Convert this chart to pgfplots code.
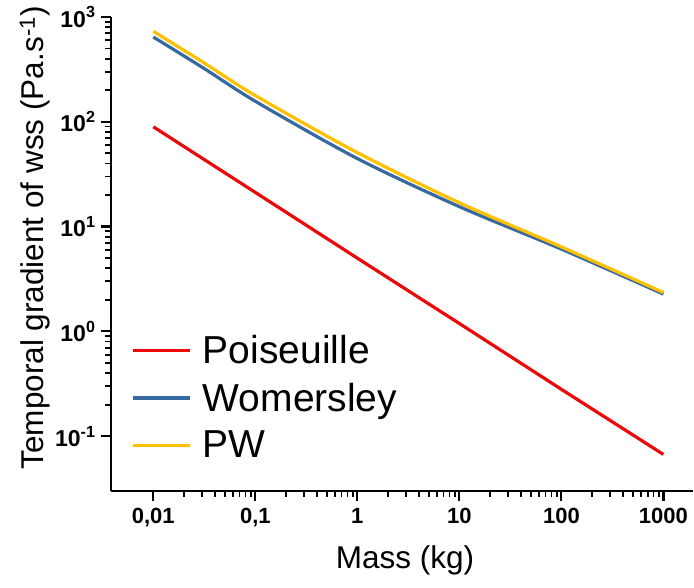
\documentclass[border=0pt]{standalone}
\usepackage{fontspec}
\setmainfont{Liberation Sans}
\usepackage{pgfplots}
\pgfplotsset{compat=1.18}

\definecolor{cPois}{RGB}{235,10,10}
\definecolor{cWom}{RGB}{55,105,160}
\definecolor{cPW}{RGB}{255,192,0}

\begin{document}
\begin{tikzpicture}
\useasboundingbox (0pt,0pt) rectangle (694pt,588pt);
\begin{axis}[
  at={(111pt,97pt)}, anchor=south west,
  scale only axis,
  width=582pt, height=474pt,
  xmode=log, ymode=log,
  xmin=0.00385, xmax=1950,
  ymin=0.03, ymax=1000,
  axis x line*=bottom, axis y line*=left,
  axis line style={line width=2.4pt},
  major tick style={black, line width=2.2pt},
  minor tick style={black, line width=1.8pt},
  tick align=outside,
  major tick length=10pt, minor tick length=6pt,
  xtick={0.01,0.1,1,10,100,1000},
  xticklabels={{0,01},{0,1},1,10,100,1000},
  ytick={0.1,1,10,100,1000},
  yticklabels={10\textsuperscript{-1},10\textsuperscript{0},10\textsuperscript{1},10\textsuperscript{2},10\textsuperscript{3}},
  x tick label style={font=\fontsize{22pt}{24pt}\selectfont\bfseries, yshift=-4pt},
  y tick label style={font=\fontsize{23pt}{25pt}\selectfont\bfseries, xshift=-2pt},
  every axis x label/.style={at={(axis description cs:0.505,-0.1456)}, anchor=center},
  every axis y label/.style={at={(axis description cs:-0.1306,0.534)}, rotate=90, anchor=center},
  label style={font=\fontsize{31.5pt}{34pt}\selectfont},
  xlabel={Mass (kg)},
  ylabel={Temporal gradient of wss (Pa.s\textsuperscript{-1})},
  legend style={draw=none, fill=none, at={(axis description cs:0.03,0.058)}, anchor=south west,
    font=\fontsize{39pt}{44pt}\selectfont, row sep=14pt,
    /tikz/every odd column/.append style={column sep=9pt}},
  legend cell align=left,
  legend image code/.code={\draw[#1] (0pt,0pt) -- (57pt,0pt);},
  every axis plot/.append style={line width=3.2pt},
]
\addplot[cPois] coordinates {(0.01,89.6) (0.1,21.2) (1,5.0) (10,1.19) (100,0.28) (1000,0.067)};
\addlegendentry{Poiseuille}
\addplot[cWom, smooth] coordinates {(0.01,644) (0.0316,322) (0.1,157) (1,44.6) (10,15.5) (100,6.1) (1000,2.27)};
\addlegendentry{Womersley}
\addplot[cPW, smooth] coordinates {(0.01,730) (0.0316,364) (0.1,178) (1,50.8) (10,16.9) (100,6.4) (1000,2.35)};
\addlegendentry{PW}
\end{axis}
\end{tikzpicture}
\end{document}
